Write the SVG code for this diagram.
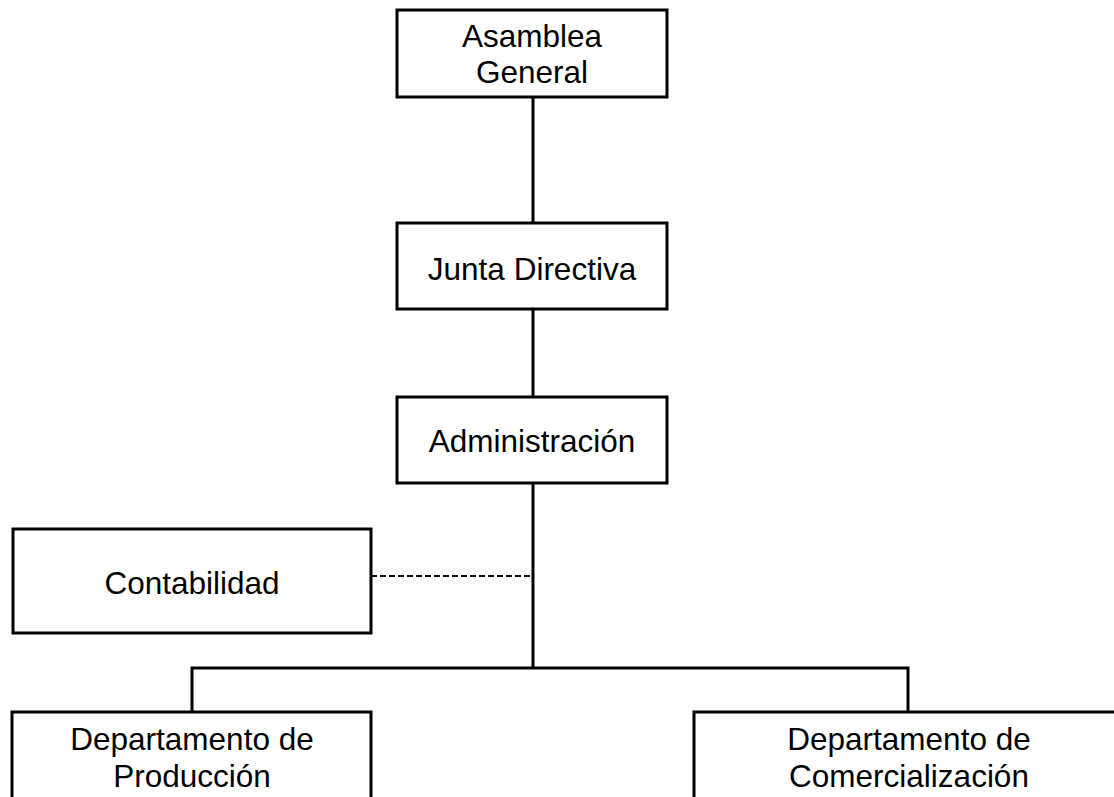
<svg xmlns="http://www.w3.org/2000/svg" width="1114" height="797" viewBox="0 0 1114 797">
<style>
.box{fill:#fff;stroke:#000;stroke-width:3}
.ln{fill:none;stroke:#000;stroke-width:3}
.dash{fill:none;stroke:#000;stroke-width:2;stroke-dasharray:6 3}
text{font-family:"Liberation Sans",Arial,sans-serif;font-size:31.5px;fill:#000;text-anchor:middle}
</style>
<rect width="1114" height="797" fill="#fff"/>
<g id="connectors">
<line class="ln" x1="533" y1="97" x2="533" y2="223"/>
<line class="ln" x1="533" y1="309" x2="533" y2="397"/>
<line class="ln" x1="533" y1="483" x2="533" y2="668"/>
<polyline class="ln" points="192,712 192,668 908,668 908,712"/>
<line class="dash" x1="371" y1="576" x2="533" y2="576"/>
</g>
<g id="asamblea">
<rect class="box" x="397" y="10" width="270" height="87"/>
<text x="532" y="47">Asamblea</text>
<text x="532" y="83">General</text>
</g>
<g id="junta">
<rect class="box" x="397" y="223" width="270" height="86"/>
<text x="532" y="280">Junta Directiva</text>
</g>
<g id="administracion">
<rect class="box" x="397" y="397" width="270" height="86"/>
<text x="532" y="452">Administración</text>
</g>
<g id="contabilidad">
<rect class="box" x="13" y="529" width="358" height="104"/>
<text x="192" y="594">Contabilidad</text>
</g>
<g id="produccion">
<rect class="box" x="12" y="712" width="359" height="100"/>
<text x="192" y="750">Departamento de</text>
<text x="192" y="787">Producción</text>
</g>
<g id="comercializacion">
<rect class="box" x="694" y="712" width="430" height="100"/>
<text x="909" y="750">Departamento de</text>
<text x="909" y="787">Comercialización</text>
</g>
</svg>
